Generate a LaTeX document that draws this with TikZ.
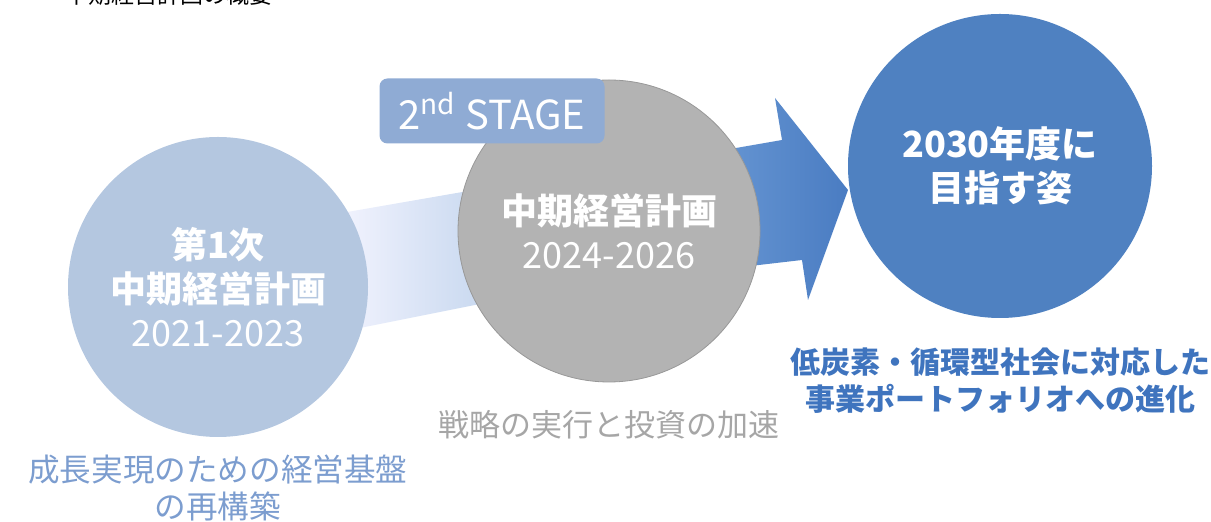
\documentclass[tikz,border=0pt]{standalone}
\usepackage{fontspec}
\setmainfont{Noto Sans CJK JP}
\usetikzlibrary{positioning}

\definecolor{firstblue}{HTML}{B4C7E0}
\definecolor{stagegray}{HTML}{B3B3B3}
\definecolor{goalblue}{HTML}{4F81C1}
\definecolor{badgeblue}{HTML}{8FABD4}
\definecolor{firsttext}{HTML}{7C9DCF}
\definecolor{secondtext}{HTML}{A6A6A6}
\definecolor{goaltext}{HTML}{3F74BE}

\begin{document}
\begin{tikzpicture}[x=0.5pt,y=-0.5pt,
						% Define styles for the plan circles and the notes under them
						plan circle/.style={circle, inner sep=0pt, text=white, align=center, font=\fontsize{18pt}{22pt}\selectfont},
						note text/.style={align=center, font=\fontsize{15.8pt}{18.5pt}\selectfont}
						]
						\useasboundingbox (0,0) rectangle (1211,522);
						
						% Title, cut off at the top
						\node[anchor=base west, inner sep=0pt, font=\fontsize{11.5pt}{14pt}\selectfont] (title) at (65,4) {中期経営計画の概要};
						
						% --- Band and arrow between the circles ---
						\shade[left color=blue!4!white, right color={rgb,255:red,190;green,210;blue,236}]
							(330,215) -- (520,182) -- (520,296) -- (330,334) -- cycle;
						\shade[left color={rgb,255:red,108;green,155;blue,214}, right color={rgb,255:red,74;green,124;blue,194}]
							(690,156) -- (782,140) -- (775,98) -- (848,190) -- (808,300) -- (802,260) -- (690,273) -- cycle;
						
						% Define and place the circles
						\node[plan circle, fill=firstblue, minimum size=150pt] (first) at (218,287)
							{{\bfseries 第1次}\\{\bfseries 中期経営計画}\\2021-2023};
						\node[plan circle, fill=stagegray, draw=stagegray!85!black, line width=0.4pt, minimum size=151pt] (second) at (609,231)
							{{\bfseries 中期経営計画}\\2024-2026};
						\node[fill=badgeblue, rounded corners=4pt, minimum width=112.5pt, minimum height=32.5pt, text=white,
							font=\fontsize{20pt}{24pt}\selectfont] (stage) at (492,111) {2\textsuperscript{nd} STAGE};
						\node[plan circle, fill=goalblue, minimum size=152pt, font=\fontsize{18pt}{22pt}\selectfont\bfseries] (goal) at (1000,166)
							{2030年度に\\目指す姿};
						
						% --- Notes ---
						\node[note text, text=firsttext] (first note) at (218,488) {成長実現のための経営基盤\\の再構築};
						\node[note text, text=secondtext, font=\fontsize{15.5pt}{18.5pt}\selectfont] (second note) at (609,425) {戦略の実行と投資の加速};
						\node[note text, text=goaltext, font=\fontsize{15pt}{18.5pt}\selectfont\bfseries] (goal note) at (1000,381)
							{低炭素・循環型社会に対応した\\事業ポートフォリオへの進化};
					\end{tikzpicture}
\end{document}
